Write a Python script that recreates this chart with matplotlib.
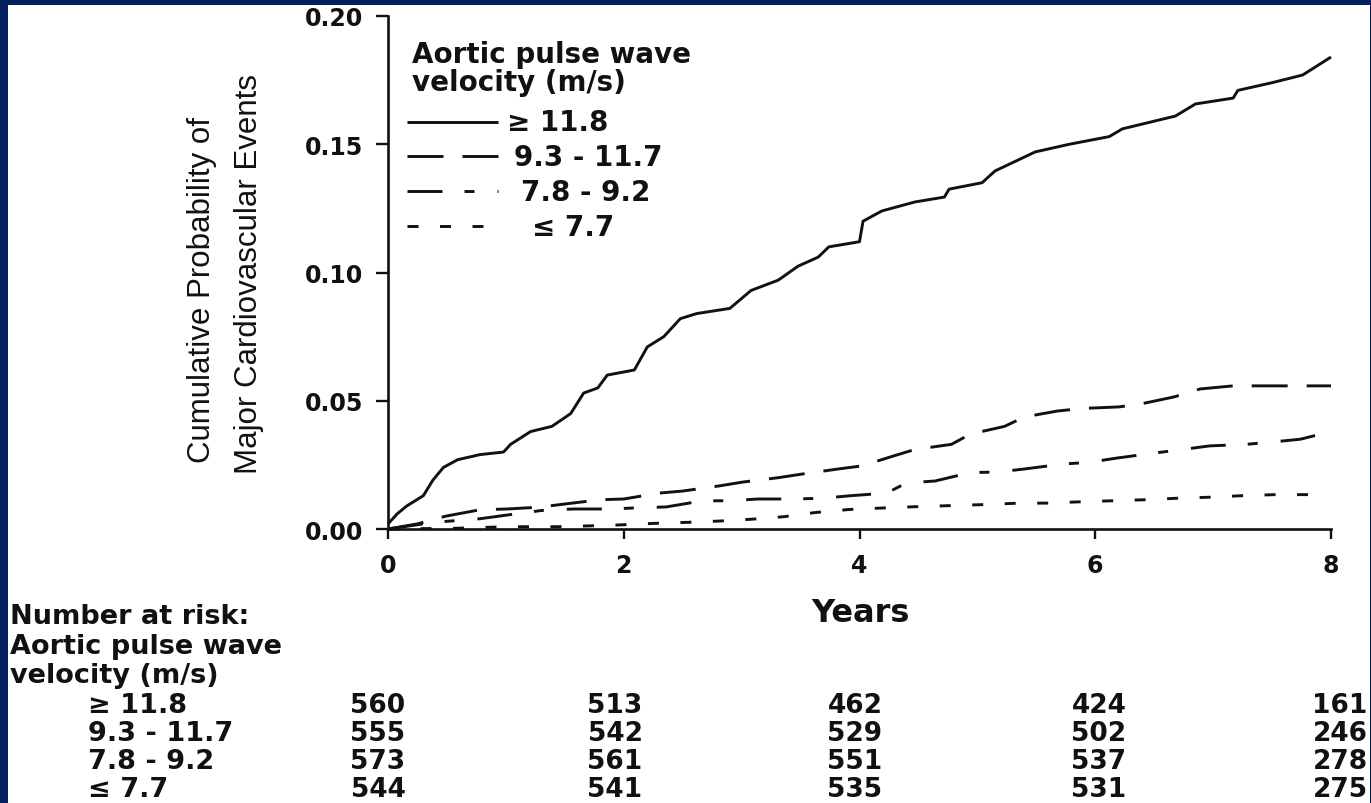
import matplotlib
matplotlib.use("Agg")
import matplotlib.pyplot as plt
from matplotlib.lines import Line2D
from matplotlib.patches import Rectangle

# ---------------- data ----------------
x_ticks = [0, 2, 4, 6, 8]
x_tick_labels = ["0", "2", "4", "6", "8"]
y_ticks = [0.00, 0.05, 0.10, 0.15, 0.20]
y_tick_labels = ["0.00", "0.05", "0.10", "0.15", "0.20"]

series_labels = ["\u2265 11.8", "9.3 - 11.7", "7.8 - 9.2", "\u2264 7.7"]

t_ge118 = [0, 0.08, 0.16, 0.30, 0.38, 0.47, 0.59, 0.78, 0.98, 1.04, 1.21, 1.39,
           1.55, 1.66, 1.78, 1.86, 2.09, 2.20, 2.34, 2.48, 2.62, 2.90, 3.08, 3.31,
           3.48, 3.65, 3.74, 4.00, 4.03, 4.19, 4.47, 4.72, 4.76, 5.04, 5.15, 5.49,
           5.78, 6.12, 6.23, 6.68, 6.85, 7.17, 7.21, 7.50, 7.76, 8.0]
p_ge118 = [0.002, 0.006, 0.009, 0.013, 0.019, 0.024, 0.027, 0.029, 0.030, 0.033,
           0.038, 0.040, 0.045, 0.053, 0.055, 0.060, 0.062, 0.071, 0.075, 0.082,
           0.084, 0.086, 0.093, 0.097, 0.1025, 0.106, 0.110, 0.112, 0.120, 0.124,
           0.1275, 0.1294, 0.1325, 0.135, 0.1396, 0.147, 0.150, 0.153, 0.156,
           0.161, 0.1657, 0.168, 0.171, 0.174, 0.177, 0.184]

t_93_117 = [0.0, 0.25, 0.49, 0.78, 1.01, 1.28, 1.51, 1.80, 2.00, 2.30, 2.50, 2.81,
            3.01, 3.31, 3.51, 3.82, 4.02, 4.29, 4.47, 4.78, 4.94, 5.23, 5.40, 5.68,
            5.89, 6.20, 6.38, 6.67, 6.89, 7.17, 7.50, 8.0]
p_93_117 = [0.0, 0.002, 0.005, 0.0075, 0.0078, 0.0085, 0.0098, 0.0114, 0.0117,
            0.014, 0.0148, 0.0168, 0.0183, 0.020, 0.0214, 0.0234, 0.0246, 0.0285,
            0.031, 0.033, 0.037, 0.040, 0.0437, 0.046, 0.047, 0.0476, 0.0487,
            0.0515, 0.0546, 0.0558, 0.0558, 0.0558]

t_78_92 = [0, 0.30, 0.50, 0.78, 1.10, 1.30, 1.57, 1.89, 2.09, 2.36, 2.67, 2.89,
           3.14, 3.45, 3.69, 3.93, 4.23, 4.40, 4.64, 4.94, 5.17, 5.40, 5.72, 5.95,
           6.19, 6.50, 6.74, 6.97, 7.28, 7.52, 7.74, 8.0]
p_78_92 = [0, 0.002, 0.003, 0.004, 0.006, 0.0072, 0.0078, 0.0078, 0.0082, 0.0086,
           0.011, 0.011, 0.0117, 0.0117, 0.012, 0.013, 0.014, 0.018, 0.0187, 0.022,
           0.0222, 0.0234, 0.0253, 0.026, 0.0277, 0.0296, 0.031, 0.0324, 0.033,
           0.034, 0.035, 0.038]

t_le77 = [0, 0.59, 0.87, 1.15, 1.44, 1.70, 1.97, 2.26, 2.54, 2.81, 3.08, 3.36,
          3.62, 3.91, 4.20, 4.48, 4.76, 5.04, 5.31, 5.59, 5.87, 6.14, 6.42, 6.70,
          6.98, 7.25, 7.53, 7.85]
p_le77 = [0, 0.0003, 0.0007, 0.0009, 0.0009, 0.0012, 0.0016, 0.0022, 0.0026,
          0.0031, 0.0038, 0.0048, 0.0064, 0.0076, 0.0082, 0.0087, 0.0091, 0.0095,
          0.0100, 0.0101, 0.0106, 0.0110, 0.0114, 0.0120, 0.0124, 0.0130, 0.0134,
          0.0134]

risk_header = ["Number at risk:", "Aortic pulse wave", "velocity (m/s)"]
risk_ge118 = [560, 513, 462, 424, 161]
risk_93_117 = [555, 542, 529, 502, 246]
risk_78_92 = [573, 561, 551, 537, 278]
risk_le77 = [544, 541, 535, 531, 275]

legend_title = ["Aortic pulse wave", "velocity (m/s)"]
x_label = "Years"
y_label = ["Cumulative Probability of", "Major Cardiovascular Events"]

# ---------------- layout ----------------
W, H = 1371, 804
NAVY = "#031f5e"
LW = 2.1


def fx(x):
    return x / W


def fy(y):
    return 1 - y / H


def px2ls(pattern):
    # pixel pattern -> linestyle in units of linewidth
    return (0, tuple(v * 0.72 / LW for v in pattern))


styles = [
    "-",
    px2ls([36, 19]),
    px2ls([35, 22, 10, 23]),
    px2ls([11, 21.5]),
]

plt.rcParams["font.family"] = ["DejaVu Sans"]

fig = plt.figure(figsize=(W / 100, H / 100), dpi=100, facecolor=NAVY)
fig.add_artist(Rectangle((fx(8), 0), (1370 - 8) / W, (H - 6) / H,
                         transform=fig.transFigure, facecolor="white",
                         edgecolor="none", zorder=-5))

ax = fig.add_axes([fx(388), fy(530), (1331 - 388) / W, (530 - 17) / H])
ax.set_facecolor("white")
ax.set_xlim(0, 8)
ax.set_ylim(0, 0.2)
for s in ["top", "right"]:
    ax.spines[s].set_visible(False)
for s in ["left", "bottom"]:
    ax.spines[s].set_linewidth(1.9)
    ax.spines[s].set_color("#111111")

ax.set_xticks(x_ticks)
ax.set_xticklabels(x_tick_labels)
ax.set_yticks(y_ticks)
ax.set_yticklabels(y_tick_labels)
ax.tick_params(axis="y", length=8.6, width=1.7, pad=9, labelsize=17, colors="#111111")
ax.tick_params(axis="x", length=7.2, width=1.7, pad=10, labelsize=17, colors="#111111")
for lbl in ax.get_xticklabels() + ax.get_yticklabels():
    lbl.set_fontweight("bold")

series = [(t_ge118, p_ge118), (t_93_117, p_93_117), (t_78_92, p_78_92), (t_le77, p_le77)]
for (t, p), ls in zip(series, styles):
    ax.plot(t, p, color="#111111", lw=LW, linestyle=ls, clip_on=False,
            dash_capstyle="butt", solid_capstyle="butt", solid_joinstyle="round")

# ---------------- text ----------------
TXT = "#111111"


def ftext(x, y, s, **kw):
    kw.setdefault("color", TXT)
    return fig.text(fx(x), fy(y), s, **kw)


# y label (two lines)
ftext(210, 290, y_label[0], rotation=90, rotation_mode="anchor", ha="center",
      va="baseline", fontfamily="Liberation Sans", fontsize=22.5)
ftext(257, 274, y_label[1], rotation=90, rotation_mode="anchor", ha="center",
      va="baseline", fontfamily="Liberation Sans", fontsize=22.5)

# x label
ftext(860, 622, x_label, ha="center", va="baseline", fontsize=23, fontweight="bold")

# legend
for txt, yb in zip(legend_title, [63, 91]):
    ftext(412, yb, txt, ha="left", va="baseline", fontsize=20, fontweight="bold")
leg_text_x = [507, 514, 521, 532]
leg_text_y = [131, 166, 201, 236]
leg_line_y = [123, 157, 192, 227]
for lab, ls, xt, yt, yl in zip(series_labels, styles, leg_text_x, leg_text_y, leg_line_y):
    fig.add_artist(Line2D([fx(407), fx(498)], [fy(yl), fy(yl)], transform=fig.transFigure,
                          color="#111111", lw=LW, linestyle=ls, dash_capstyle="butt",
                          solid_capstyle="butt"))
    ftext(xt, yt, lab, ha="left", va="baseline", fontsize=20, fontweight="bold")

# number-at-risk table
for txt, yb in zip(risk_header, [624, 654, 683]):
    ftext(10, yb, txt, ha="left", va="baseline", fontsize=19.5, fontweight="bold")
col_x = [378, 615, 855, 1099, 1340]
row_y = [713, 741, 769, 797]
rows = [risk_ge118, risk_93_117, risk_78_92, risk_le77]
for lab, vals, yb in zip(series_labels, rows, row_y):
    ftext(88, yb, lab, ha="left", va="baseline", fontsize=19.5, fontweight="bold")
    for xc, v in zip(col_x, vals):
        ftext(xc, yb, str(v), ha="center", va="baseline", fontsize=19, fontweight="bold")

fig.savefig("out.png", dpi=100, facecolor=NAVY)
